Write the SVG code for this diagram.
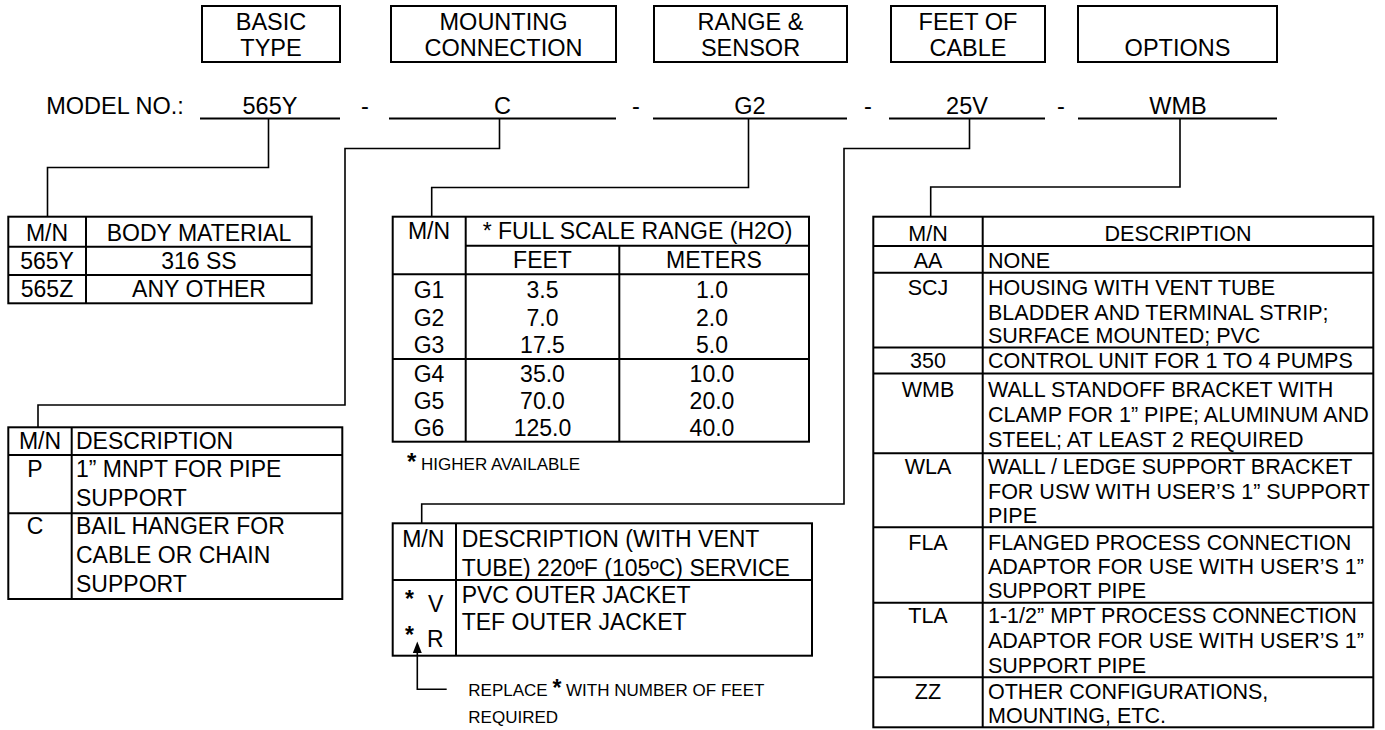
<svg xmlns="http://www.w3.org/2000/svg" width="1385" height="730" viewBox="0 0 1385 730">
<style>
text{font-family:"Liberation Sans",Arial,sans-serif;fill:#000}
.h{font-size:23.5px;text-anchor:middle}
.m{font-size:23.5px;text-anchor:middle}
.t{font-size:23px}
.r{font-size:21.5px}
.c{text-anchor:middle}
.box{fill:none;stroke:#000;stroke-width:2}
.ln{stroke:#000;stroke-width:2}
.ul{stroke:#000;stroke-width:2}
.con{fill:none;stroke:#000;stroke-width:1.6}
.sm{font-size:17px}
.st{font-weight:bold}
</style>
<rect width="1385" height="730" fill="#fff"/>

<g id="hdr-basic"><rect class="box" x="202" y="6" width="138" height="56"/><text class="h" x="271" y="30">BASIC</text><text class="h" x="271" y="56">TYPE</text></g>
<g id="hdr-mount"><rect class="box" x="391" y="6" width="225" height="56"/><text class="h" x="503.5" y="30">MOUNTING</text><text class="h" x="503.5" y="56">CONNECTION</text></g>
<g id="hdr-range"><rect class="box" x="654" y="6" width="193" height="56"/><text class="h" x="750.5" y="30">RANGE &amp;</text><text class="h" x="750.5" y="56">SENSOR</text></g>
<g id="hdr-feet"><rect class="box" x="891" y="6" width="154" height="56"/><text class="h" x="968" y="30">FEET OF</text><text class="h" x="968" y="56">CABLE</text></g>
<g id="hdr-options"><rect class="box" x="1078" y="6" width="199" height="56"/><text class="h" x="1177.5" y="56">OPTIONS</text></g>

<g id="model">
<text class="m" x="115" y="113.5">MODEL NO.:</text>
<line class="ul" x1="200" y1="118.5" x2="340" y2="118.5"/><text class="m" x="270" y="113.5">565Y</text>
<text class="m" x="365" y="113.5">-</text>
<line class="ul" x1="389" y1="118.5" x2="616" y2="118.5"/><text class="m" x="502.5" y="113.5">C</text>
<text class="m" x="636" y="113.5">-</text>
<line class="ul" x1="653" y1="118.5" x2="847" y2="118.5"/><text class="m" x="750" y="113.5">G2</text>
<text class="m" x="868" y="113.5">-</text>
<line class="ul" x1="889" y1="118.5" x2="1045" y2="118.5"/><text class="m" x="967" y="113.5">25V</text>
<text class="m" x="1061" y="113.5">-</text>
<line class="ul" x1="1078" y1="118.5" x2="1277" y2="118.5"/><text class="m" x="1178" y="113.5">WMB</text>
</g>

<g id="connectors">
<path class="con" d="M268.5,118.5 V167.5 H47.5 V216.7"/>
<path class="con" d="M499.5,118.5 V148.5 H345 V405 H38 V427.3"/>
<path class="con" d="M748.5,118.5 V187.5 H431.7 V216.7"/>
<path class="con" d="M969.5,118.5 V148.5 H844 V504 H421.7 V523.3"/>
<path class="con" d="M1180,118.5 V187 H930.7 V216.7"/>
<path class="con" d="M417.3,652 V689.3 H446.7"/>
<polygon points="417.3,641.5 412.8,653 421.8,653" fill="#000"/>
</g>

<g id="tbl-body">
<rect class="box" x="8.3" y="216.7" width="303.4" height="86.6"/>
<line class="ln" x1="8.3" y1="246.7" x2="311.7" y2="246.7"/>
<line class="ln" x1="8.3" y1="275" x2="311.7" y2="275"/>
<line class="ln" x1="86" y1="216.7" x2="86" y2="303.3"/>
<text class="t c" x="47" y="241">M/N</text><text class="t c" x="199" y="241">BODY MATERIAL</text>
<text class="t c" x="47" y="268.5">565Y</text><text class="t c" x="199" y="268.5">316 SS</text>
<text class="t c" x="47" y="297">565Z</text><text class="t c" x="199" y="297">ANY OTHER</text>
</g>

<g id="tbl-mount">
<rect class="box" x="8.3" y="427.3" width="334" height="171.7"/>
<line class="ln" x1="8.3" y1="455" x2="342.3" y2="455"/>
<line class="ln" x1="8.3" y1="513.3" x2="342.3" y2="513.3"/>
<line class="ln" x1="71.7" y1="427.3" x2="71.7" y2="599"/>
<text class="t c" x="40" y="449">M/N</text><text class="t" x="76" y="449">DESCRIPTION</text>
<text class="t c" x="35" y="477.3">P</text><text class="t" x="76" y="477.3">1” MNPT FOR PIPE</text>
<text class="t" x="76" y="505.7">SUPPORT</text>
<text class="t c" x="35" y="534">C</text><text class="t" x="76" y="534">BAIL HANGER FOR</text>
<text class="t" x="76" y="562.7">CABLE OR CHAIN</text>
<text class="t" x="76" y="592.3">SUPPORT</text>
</g>

<g id="tbl-range">
<rect class="box" x="392.7" y="216.7" width="416.3" height="225"/>
<line class="ln" x1="465.7" y1="216.7" x2="465.7" y2="441.7"/>
<line class="ln" x1="465.7" y1="245.7" x2="809" y2="245.7"/>
<line class="ln" x1="392.7" y1="274.3" x2="809" y2="274.3"/>
<line class="ln" x1="619.3" y1="245.7" x2="619.3" y2="441.7"/>
<line class="ln" x1="392.7" y1="359" x2="809" y2="359"/>
<text class="t c" x="429" y="239.3">M/N</text><text class="t c" x="637.5" y="239.3">* FULL SCALE RANGE (H2O)</text>
<text class="t c" x="542.5" y="268.3">FEET</text><text class="t c" x="714" y="268.3">METERS</text>
<text class="t c" x="429" y="298.3">G1</text><text class="t c" x="542.5" y="298.3">3.5</text><text class="t c" x="712" y="298.3">1.0</text>
<text class="t c" x="429" y="326">G2</text><text class="t c" x="542.5" y="326">7.0</text><text class="t c" x="712" y="326">2.0</text>
<text class="t c" x="429" y="352.7">G3</text><text class="t c" x="542.5" y="352.7">17.5</text><text class="t c" x="712" y="352.7">5.0</text>
<text class="t c" x="429" y="381.7">G4</text><text class="t c" x="542.5" y="381.7">35.0</text><text class="t c" x="712" y="381.7">10.0</text>
<text class="t c" x="429" y="409.3">G5</text><text class="t c" x="542.5" y="409.3">70.0</text><text class="t c" x="712" y="409.3">20.0</text>
<text class="t c" x="429" y="436">G6</text><text class="t c" x="542.5" y="436">125.0</text><text class="t c" x="712" y="436">40.0</text>
</g>

<g id="note-higher">
<text class="sm" x="407" y="470"><tspan class="st" font-size="24px">*</tspan> HIGHER AVAILABLE</text>
</g>

<g id="tbl-cable">
<rect class="box" x="392.7" y="523.3" width="419.3" height="132.4"/>
<line class="ln" x1="392.7" y1="580" x2="812" y2="580"/>
<line class="ln" x1="456" y1="523.3" x2="456" y2="655.7"/>
<text class="t c" x="423.3" y="547.3">M/N</text><text class="t" x="461.7" y="547.3">DESCRIPTION (WITH VENT</text>
<text class="t" x="461.7" y="576">TUBE) 220ºF (105ºC) SERVICE</text>
<text class="t st" x="405" y="607">*</text><text class="t" x="428" y="611.7">V</text>
<text class="t st" x="405" y="643">*</text><text class="t" x="427" y="647.3">R</text>
<text class="t" x="461.7" y="603.3">PVC OUTER JACKET</text>
<text class="t" x="461.7" y="630">TEF OUTER JACKET</text>
</g>

<g id="note-replace">
<text class="sm" x="468.3" y="696">REPLACE <tspan class="st" font-size="23px">*</tspan> WITH NUMBER OF FEET</text>
<text class="sm" x="468.3" y="722.7">REQUIRED</text>
</g>

<g id="tbl-options">
<rect class="box" x="873.3" y="216.7" width="500" height="510.6"/>
<line class="ln" x1="982.7" y1="216.7" x2="982.7" y2="727.3"/>
<line class="ln" x1="873.3" y1="246" x2="1373.3" y2="246"/>
<line class="ln" x1="873.3" y1="272.7" x2="1373.3" y2="272.7"/>
<line class="ln" x1="873.3" y1="347.5" x2="1373.3" y2="347.5"/>
<line class="ln" x1="873.3" y1="373.5" x2="1373.3" y2="373.5"/>
<line class="ln" x1="873.3" y1="453.3" x2="1373.3" y2="453.3"/>
<line class="ln" x1="873.3" y1="527.3" x2="1373.3" y2="527.3"/>
<line class="ln" x1="873.3" y1="602.7" x2="1373.3" y2="602.7"/>
<line class="ln" x1="873.3" y1="677.3" x2="1373.3" y2="677.3"/>
<text class="r c" x="928" y="240.7">M/N</text><text class="r c" x="1178" y="240.7">DESCRIPTION</text>
<text class="r c" x="928" y="268.3">AA</text><text class="r" x="988" y="268.3">NONE</text>
<text class="r c" x="928" y="295">SCJ</text><text class="r" x="988" y="295">HOUSING WITH VENT TUBE</text>
<text class="r" x="988" y="319.5">BLADDER AND TERMINAL STRIP;</text>
<text class="r" x="988" y="343">SURFACE MOUNTED; PVC</text>
<text class="r c" x="928" y="368">350</text><text class="r" x="988" y="368">CONTROL UNIT FOR 1 TO 4 PUMPS</text>
<text class="r c" x="928" y="396.7">WMB</text><text class="r" x="988" y="396.7">WALL STANDOFF BRACKET WITH</text>
<text class="r" x="988" y="421.7">CLAMP FOR 1” PIPE; ALUMINUM AND</text>
<text class="r" x="988" y="446.7">STEEL; AT LEAST 2 REQUIRED</text>
<text class="r c" x="928" y="474">WLA</text><text class="r" x="988" y="474">WALL / LEDGE SUPPORT BRACKET</text>
<text class="r" x="988" y="498.5">FOR USW WITH USER’S 1” SUPPORT</text>
<text class="r" x="988" y="523">PIPE</text>
<text class="r c" x="928" y="550">FLA</text><text class="r" x="988" y="550">FLANGED PROCESS CONNECTION</text>
<text class="r" x="988" y="574">ADAPTOR FOR USE WITH USER’S 1”</text>
<text class="r" x="988" y="598">SUPPORT PIPE</text>
<text class="r c" x="928" y="623.3">TLA</text><text class="r" x="988" y="623.3">1-1/2” MPT PROCESS CONNECTION</text>
<text class="r" x="988" y="648.3">ADAPTOR FOR USE WITH USER’S 1”</text>
<text class="r" x="988" y="673">SUPPORT PIPE</text>
<text class="r c" x="928" y="699.3">ZZ</text><text class="r" x="988" y="699.3">OTHER CONFIGURATIONS,</text>
<text class="r" x="988" y="723">MOUNTING, ETC.</text>
</g>
</svg>
